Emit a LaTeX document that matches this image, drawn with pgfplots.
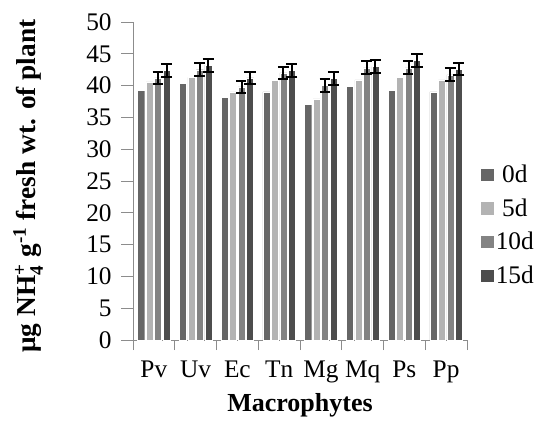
\documentclass[border=0pt]{standalone}
\usepackage{amsmath}
\usepackage{fontspec}
\setmainfont{Liberation Serif}
\usepackage{pgfplots}
\pgfplotsset{compat=1.18}

\definecolor{c0}{HTML}{666666}
\definecolor{c5}{HTML}{B3B3B3}
\definecolor{c10}{HTML}{838383}
\definecolor{c15}{HTML}{4D4D4D}
\definecolor{axgray}{HTML}{8C8C8C}

\newcommand{\bigfont}{\fontsize{19}{22}\selectfont}

\begin{document}
\begin{tikzpicture}
\begin{axis}[
    name=main,
    scale only axis, width=250.5pt, height=238.5pt,
    ybar=1.05pt, bar width=5.3pt,
    xmin=-0.5, xmax=7.5, ymin=0, ymax=50,
    xtick={0,...,7},
    xticklabels={Pv,Uv,Ec,Tn,Mg,Mq,Ps,Pp},
    minor xtick={-0.5,0.5,...,7.5},
    ytick={0,5,...,50},
    axis x line*=bottom, axis y line*=left,
    axis line style={axgray, line width=0.7pt},
    major x tick style={draw=none},
    minor tick length=7.5pt, major tick length=9pt,
    tick align=outside,
    tick style={axgray, line width=0.7pt},
    /pgf/number format/assume math mode=true,
    tick label style={font=\bigfont},
    xticklabel style={yshift=-3pt},
    yticklabel style={xshift=-3.5pt},
    xlabel={Macrophytes},
    ylabel={μg NH$_{\text{4}}^{\text{+}}$ g$^{\text{-1}}$ fresh wt. of plant},
    every axis x label/.style={at={(axis description cs:0.5,-0.204)}, anchor=center,
        font=\fontsize{19.5}{22}\selectfont\bfseries},
    every axis y label/.style={at={(axis description cs:-0.314,0.484)}, rotate=90, anchor=center,
        font=\fontsize{20.5}{24}\selectfont\bfseries},
    legend style={draw=none, fill=none, at={(axis description cs:1.039,0.555)}, anchor=north west,
        inner sep=0pt, outer sep=0pt,
        font=\bigfont, row sep=8.5pt,
        nodes={inner sep=1pt},
        /tikz/every even column/.append style={column sep=0pt}},
    legend image code/.code={\fill[#1] (0pt,-4.9pt) rectangle (10.5pt,4.9pt);},
    error bars/y dir=both, error bars/y explicit,
    error bars/error bar style={black, line width=1.5pt},
    error bars/error mark options={rotate=90, mark size=4.2pt, line width=1.5pt, black},
]
\addplot[fill=c0, draw=white, line width=0.3pt] coordinates {
 (0,39.2) (1,40.4) (2,38.2) (3,39.0) (4,37.1) (5,39.9) (6,39.3) (7,39.0)};
\addplot[fill=c5, draw=white, line width=0.3pt] coordinates {
 (0,40.6) (1,41.3) (2,39.0) (3,40.8) (4,37.9) (5,40.9) (6,41.3) (7,40.9)};
\addplot[fill=c10, draw=white, line width=0.3pt] coordinates {
 (0,41.2) +- (0,1.0) (1,42.5) +- (0,1.0) (2,39.8) +- (0,1.0) (3,42.0) +- (0,1.0)
 (4,40.0) +- (0,1.0) (5,42.8) +- (0,1.0) (6,42.8) +- (0,1.0) (7,41.7) +- (0,1.0)};
\addplot[fill=c15, draw=white, line width=0.3pt] coordinates {
 (0,42.4) +- (0,1.0) (1,43.2) +- (0,1.0) (2,41.2) +- (0,1.0) (3,42.4) +- (0,1.0)
 (4,41.1) +- (0,1.0) (5,43.0) +- (0,1.0) (6,44.0) +- (0,1.0) (7,42.6) +- (0,1.0)};
\legend{0d,5d,10d,15d}
\end{axis}
\pgfresetboundingbox
\path (main.south west) ++(-99.75pt,-60pt) rectangle (main.north east);
\path (main.north east) ++(54pt,16.5pt) coordinate (tr);
\path (tr);
\end{tikzpicture}
\end{document}
